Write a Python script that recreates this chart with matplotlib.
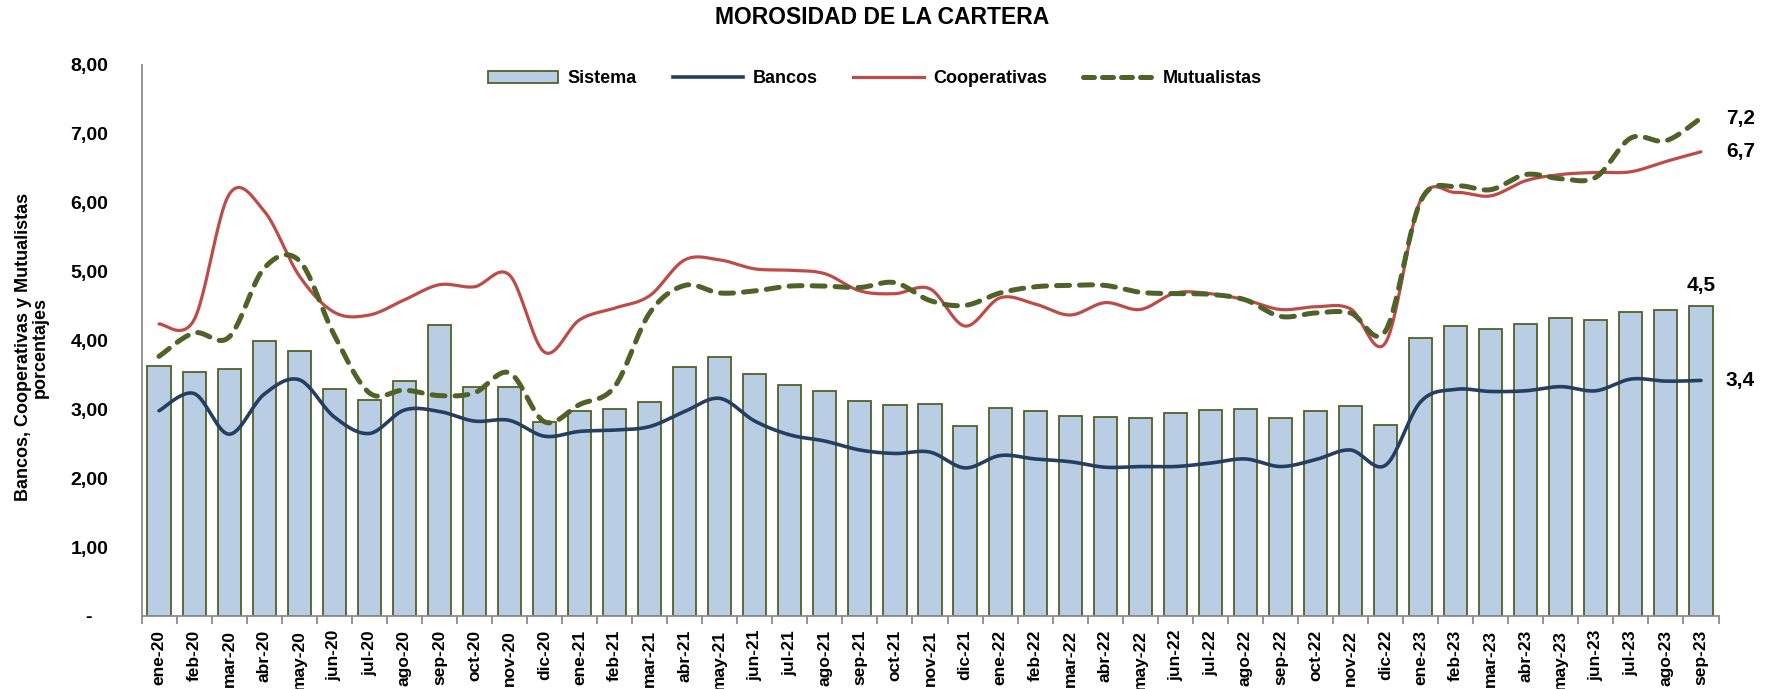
import numpy as np
import matplotlib
matplotlib.use("Agg")
import matplotlib.pyplot as plt
from matplotlib.patches import Patch
from matplotlib.lines import Line2D
from matplotlib.ticker import FuncFormatter, FixedLocator

# series: morosidad mensual (%), ene-20 .. sep-23
meses = ["ene", "feb", "mar", "abr", "may", "jun", "jul", "ago", "sep", "oct", "nov", "dic"]
etiquetas = [f"{m}-{a}" for a in ["20", "21", "22"] for m in meses] + [f"{m}-23" for m in meses[:9]]

sistema = [3.63, 3.54, 3.59, 4.00, 3.85, 3.29, 3.13, 3.41, 4.22, 3.32, 3.32, 2.82,
           2.97, 3.01, 3.11, 3.62, 3.76, 3.51, 3.35, 3.27, 3.12, 3.06, 3.08, 2.76,
           3.02, 2.97, 2.90, 2.89, 2.87, 2.95, 2.99, 3.00, 2.88, 2.97, 3.05, 2.77,
           4.03, 4.21, 4.17, 4.24, 4.32, 4.30, 4.41, 4.44, 4.50]

bancos = [2.98, 3.23, 2.64, 3.22, 3.43, 2.89, 2.65, 2.99, 2.97, 2.83, 2.84, 2.61,
          2.68, 2.70, 2.75, 2.97, 3.16, 2.83, 2.63, 2.54, 2.41, 2.36, 2.38, 2.15,
          2.33, 2.28, 2.24, 2.16, 2.17, 2.17, 2.22, 2.28, 2.17, 2.27, 2.41, 2.19,
          3.11, 3.29, 3.26, 3.27, 3.33, 3.27, 3.44, 3.41, 3.42]

cooperativas = [4.24, 4.30, 6.12, 5.88, 4.94, 4.41, 4.37, 4.59, 4.81, 4.78, 4.95, 3.83,
                4.30, 4.47, 4.65, 5.17, 5.17, 5.04, 5.02, 4.97, 4.72, 4.68, 4.75, 4.21,
                4.62, 4.53, 4.37, 4.55, 4.45, 4.69, 4.68, 4.59, 4.45, 4.49, 4.46, 3.97,
                6.04, 6.15, 6.10, 6.32, 6.41, 6.44, 6.45, 6.60, 6.74]

mutualistas = [3.77, 4.11, 4.05, 5.05, 5.16, 4.08, 3.24, 3.28, 3.20, 3.24, 3.53, 2.82,
               3.07, 3.33, 4.40, 4.80, 4.69, 4.72, 4.79, 4.79, 4.77, 4.84, 4.58, 4.51,
               4.69, 4.78, 4.80, 4.80, 4.70, 4.68, 4.67, 4.59, 4.35, 4.40, 4.40, 4.14,
               6.02, 6.24, 6.19, 6.41, 6.35, 6.37, 6.94, 6.90, 7.23]

C_BAR = "#B9CDE5"
C_EDGE = "#4F6228"
C_BANCOS = "#243F60"
C_COOP = "#BE4B48"
C_MUT = "#4F6228"

FUENTE = ["Liberation Sans", "DejaVu Sans"]


def suavizar(x, y, n=24):
    # curva tipo Excel (bezier cardinal) que pasa por cada punto
    pts = np.column_stack([x, y]).astype(float)
    pad = np.vstack([pts[0], pts, pts[-1]])
    t = np.linspace(0, 1, n, endpoint=False)[:, None]
    out = []
    for i in range(len(pts) - 1):
        p0, p1, p2, p3 = pad[i], pad[i + 1], pad[i + 2], pad[i + 3]
        c1 = p1 + (p2 - p0) / 6
        c2 = p2 - (p3 - p1) / 6
        out.append((1 - t) ** 3 * p1 + 3 * (1 - t) ** 2 * t * c1
                   + 3 * (1 - t) * t ** 2 * c2 + t ** 3 * p2)
    out.append(pts[-1:])
    s = np.vstack(out)
    return s[:, 0], s[:, 1]


x = np.arange(len(etiquetas))

fig = plt.figure(figsize=(17.67, 6.89), dpi=100)
ax = fig.add_axes([141.5 / 1767, 1 - 616 / 689, 1577 / 1767, 551 / 689])

ax.bar(x, sistema, width=0.66, color=C_BAR, edgecolor=C_EDGE, linewidth=1.3, zorder=2)

xs, ys = suavizar(x, bancos)
ax.plot(xs, ys, color=C_BANCOS, lw=2.6, solid_capstyle="round", zorder=3)
xs, ys = suavizar(x, cooperativas)
ax.plot(xs, ys, color=C_COOP, lw=2.3, solid_capstyle="round", zorder=3)
xs, ys = suavizar(x, mutualistas)
ax.plot(xs, ys, color=C_MUT, lw=3.6, dashes=(2.6, 2.0), dash_capstyle="round", zorder=4)

ax.set_xlim(-0.5, len(x) - 0.5)
ax.set_ylim(0, 8)

# ejes
for s in ["top", "right"]:
    ax.spines[s].set_visible(False)
for s in ["left", "bottom"]:
    ax.spines[s].set_color("#8C8C8C")
    ax.spines[s].set_linewidth(1.3)

ax.yaxis.set_major_locator(FixedLocator(np.arange(0, 9, 1)))
ax.yaxis.set_major_formatter(FuncFormatter(
    lambda v, p: "-   " if v == 0 else f"{v:.2f}".replace(".", ",")))
ax.tick_params(axis="y", length=0, pad=24)
for lb in ax.get_yticklabels():
    lb.set_fontfamily(FUENTE)
    lb.set_fontweight("bold")
    lb.set_fontsize(14)

ax.set_xticks(x)
ax.set_xticklabels(etiquetas, rotation=90, fontfamily=FUENTE, fontweight="bold", fontsize=12.5)
ax.tick_params(axis="x", which="major", length=0, pad=10)
ax.set_xticks(np.arange(-0.5, len(x), 1), minor=True)
ax.tick_params(axis="x", which="minor", length=6, width=1.3, color="#8C8C8C", direction="out")

# etiquetas de valor al final
for serie in [mutualistas, cooperativas, bancos]:
    ax.annotate(f"{serie[-1]:.1f}".replace(".", ","), (x[-1], serie[-1]),
                xytext=(18, 0), textcoords="offset points", ha="left", va="center",
                fontfamily=FUENTE, fontweight="bold", fontsize=15, annotation_clip=False)
ax.annotate(f"{sistema[-1]:.1f}".replace(".", ","), (x[-1], sistema[-1]),
            xytext=(0, 8), textcoords="offset points", ha="center", va="bottom",
            fontfamily=FUENTE, fontweight="bold", fontsize=15, annotation_clip=False)

handles = [
    Patch(facecolor=C_BAR, edgecolor=C_EDGE, linewidth=1.3),
    Line2D([], [], color=C_BANCOS, lw=2.6),
    Line2D([], [], color=C_COOP, lw=2.3),
    Line2D([], [], color=C_MUT, lw=3.6, dashes=(2.2, 1.6), dash_capstyle="round"),
]
ax.legend(handles, ["Sistema", "Bancos", "Cooperativas", "Mutualistas"],
          loc="center", bbox_to_anchor=(0.465, 0.975), ncol=4, frameon=False,
          handlelength=3.9, handletextpad=0.5, columnspacing=2.0,
          prop={"family": FUENTE, "weight": "bold", "size": 13})

fig.text(882 / 1767, 1 - 17.5 / 689, "MOROSIDAD DE LA CARTERA", ha="center", va="center",
         fontfamily=FUENTE, fontweight="bold", fontsize=16.5)
fig.text(32 / 1767, 1 - 347 / 689, "Bancos, Cooperativas y Mutualistas\nporcentajes",
         rotation=90, ha="center", va="center", multialignment="center",
         fontfamily=FUENTE, fontweight="bold", fontsize=13, linespacing=1.0)

fig.savefig("out.png", dpi=100)
